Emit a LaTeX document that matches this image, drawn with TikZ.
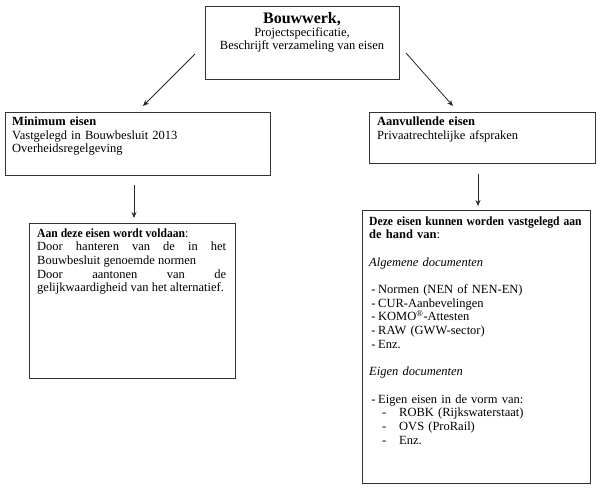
\documentclass[tikz,border=0pt]{standalone}
\usepackage{fontspec}
\setmainfont{Liberation Serif}
\usetikzlibrary{arrows.meta}
\newcommand{\narrowbf}[1]{\scalebox{0.93}[1]{\textbf{#1}}}
\begin{document}
\begin{tikzpicture}[x=1pt,y=-1pt,
  box/.style={draw=black!80,line width=0.9pt,inner sep=0pt,anchor=north west,fill=white},
  txt/.style={inner sep=0pt,anchor=base west,align=left,font=\fontsize{12.5}{13.7}\selectfont},
  conn/.style={draw=black!85,line width=0.8pt,-{Stealth[length=6pt,width=5pt]}}]
\useasboundingbox (0,0) rectangle (600,488);
% boxes
\node[box,minimum width=194pt,minimum height=73pt] (top) at (205,6) {};
\node[box,minimum width=265pt,minimum height=63pt] (mini) at (5,112) {};
\node[box,minimum width=226pt,minimum height=51pt] (aanv) at (369,112) {};
\node[box,minimum width=206pt,minimum height=155pt] (vold) at (29,223) {};
\node[box,minimum width=228pt,minimum height=273pt] (hand) at (362,210) {};
% texts
\node[inner sep=0pt,anchor=base,font=\fontsize{16}{16}\selectfont\bfseries] (ttitle) at (302,23) {Bouwwerk,};
\node[inner sep=0pt,anchor=base,font=\fontsize{12.5}{13}\selectfont] (tsub1) at (302,36) {Projectspecificatie,};
\node[inner sep=0pt,anchor=base,font=\fontsize{12.5}{13}\selectfont] (tsub2) at (302,49.5) {Beschrijft verzameling van eisen};
\node[txt,text width=250pt] (tmini) at (12,125.5) {\textbf{Minimum eisen}\\Vastgelegd in Bouwbesluit 2013\\Overheidsregelgeving};
\node[txt,text width=210pt] (taanv) at (377,125.5) {\textbf{Aanvullende eisen}\\Privaatrechtelijke afspraken};
\node[txt,text width=189pt,align=justify] (tvold) at (37,237) {\narrowbf{Aan deze eisen wordt voldaan}:\\Door hanteren van de in het\linebreak Bouwbesluit genoemde normen\\Door aantonen van de\linebreak gelijkwaardigheid van het alternatief.};
\node[txt,text width=260pt] (thand) at (369,225) {\narrowbf{Deze eisen kunnen worden vastgelegd aan}\\\textbf{de hand van}:\\[13.7pt]
\textit{Algemene documenten}\\[13.7pt]
\makebox[9pt][l]{\,-}Normen (NEN of NEN-EN)\\
\makebox[9pt][l]{\,-}CUR-Aanbevelingen\\
\makebox[9pt][l]{\,-}KOMO\textsuperscript{®}-Attesten\\
\makebox[9pt][l]{\,-}RAW (GWW-sector)\\
\makebox[9pt][l]{\,-}Enz.\\[13.7pt]
\textit{Eigen documenten}\\[13.7pt]
\makebox[9pt][l]{\,-}Eigen eisen in de vorm van:\\
\hspace{13pt}\makebox[17pt][l]{-}ROBK (Rijkswaterstaat)\\
\hspace{13pt}\makebox[17pt][l]{-}OVS (ProRail)\\
\hspace{13pt}\makebox[17pt][l]{-}Enz.};
% connector ends
\coordinate (c1s) at (195,54);
\coordinate (c1e) at (143,106);
\coordinate (c2s) at (406,53);
\coordinate (c2e) at (453,106);
\coordinate (c3s) at (134,185);
\coordinate (c3e) at (134,218);
\coordinate (c4s) at (478,174);
\coordinate (c4e) at (478,206);
\draw[conn] (c1s) -- (c1e);
\draw[conn] (c2s) -- (c2e);
\draw[conn] (c3s) -- (c3e);
\draw[conn] (c4s) -- (c4e);
\end{tikzpicture}
\end{document}
